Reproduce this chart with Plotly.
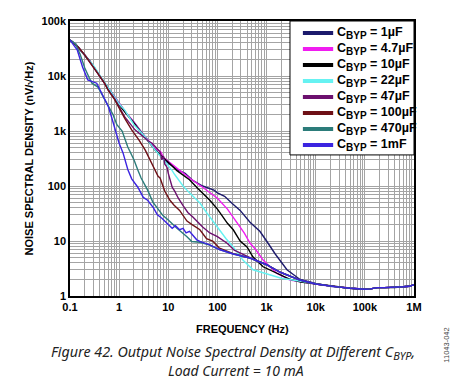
import plotly.graph_objects as go

# ---------------- data ----------------
FLOOR_F = [20e3, 30e3, 50e3, 80e3, 100e3, 130e3, 180e3, 250e3, 400e3, 600e3, 800e3, 1e6]
FLOOR_V = [1.5, 1.45, 1.38, 1.34, 1.33, 1.35, 1.42, 1.42, 1.43, 1.47, 1.5, 1.6]

F_1U = [0.1, 0.13, 0.16, 0.2, 0.25, 0.3, 0.4, 0.5, 0.6, 0.8, 1.0, 1.4, 2.0, 2.8, 3.8, 5.4, 7.4, 10, 13, 16, 22, 32, 50, 85, 100, 140, 200, 290, 460, 730, 1000, 1500, 2600, 4800, 10000]
V_1U = [45e3, 38e3, 30e3, 24e3, 19e3, 15e3, 10e3, 7.6e3, 6.1e3, 4.2e3, 3.1e3, 2.1e3, 1.45e3, 950, 680, 460, 330, 260, 220, 195, 170, 125, 100, 84, 75, 65, 48, 36, 22, 15, 10, 5.8, 3.0, 2.0, 1.7]

F_4U7 = [0.1, 0.13, 0.16, 0.2, 0.25, 0.3, 0.4, 0.5, 0.6, 0.8, 1.0, 1.4, 2.0, 2.8, 3.8, 5.4, 7.0, 8.0, 10, 15, 20, 27, 50, 100, 160, 250, 350, 460, 600, 850, 1600, 3000, 5000, 10000]
V_4U7 = [45e3, 38e3, 30e3, 24e3, 19e3, 15e3, 10e3, 7.5e3, 6.0e3, 4.2e3, 3.1e3, 2.1e3, 1.45e3, 950, 700, 480, 420, 330, 280, 210, 170, 140, 95, 60, 38, 21, 14, 9.2, 7.0, 4.5, 2.6, 1.95, 1.8, 1.65]

F_10U = [0.1, 0.13, 0.16, 0.2, 0.25, 0.3, 0.4, 0.5, 0.6, 0.8, 1.0, 1.4, 2.0, 2.8, 3.8, 5.4, 7.8, 10, 15, 20, 27, 40, 70, 100, 160, 210, 290, 400, 530, 850, 1600, 3000, 5000, 10000]
V_10U = [45e3, 38e3, 30e3, 24e3, 19e3, 15e3, 10e3, 7.5e3, 6.0e3, 4.1e3, 3.0e3, 2.05e3, 1.4e3, 930, 680, 450, 335, 270, 190, 160, 130, 90, 55, 38, 21, 16, 10, 7.8, 5.1, 3.4, 2.6, 2.0, 1.8, 1.65]

F_22U = [0.1, 0.13, 0.16, 0.2, 0.25, 0.3, 0.4, 0.5, 0.6, 0.8, 1.0, 1.3, 2.0, 3.4, 5.4, 8.0, 10.8, 12, 13.6, 17, 20, 27, 44, 60, 100, 150, 210, 330, 530, 800, 1000, 2000, 5000, 10000]
V_22U = [45e3, 38e3, 30e3, 24e3, 19e3, 15.5e3, 10.5e3, 7.8e3, 6.2e3, 4.3e3, 3.1e3, 2.4e3, 1.3e3, 780, 450, 300, 220, 190, 160, 120, 100, 75, 49, 33, 18, 11, 7.8, 4.5, 3.0, 2.7, 2.5, 2.1, 1.85, 1.65]

F_47U = [0.1, 0.15, 0.2, 0.28, 0.37, 0.5, 0.6, 0.8, 1.0, 1.3, 2.1, 3.0, 4.0, 4.7, 5.5, 6.8, 7.4, 8.0, 8.5, 9.4, 10, 11, 12, 13.6, 16, 20, 25, 32, 40, 50, 70, 100, 160, 220, 460, 1000, 1900, 4800, 10000]
V_47U = [45e3, 33e3, 24e3, 16e3, 11e3, 7.5e3, 5.6e3, 3.9e3, 2.8e3, 1.8e3, 1.05e3, 800, 650, 600, 520, 420, 300, 350, 250, 220, 170, 130, 95, 80, 60, 44, 33, 27, 22, 18, 14, 12, 9.0, 6.8, 5.0, 3.7, 2.7, 1.95, 1.65]

F_100U = [0.1, 0.15, 0.2, 0.28, 0.37, 0.5, 0.6, 0.8, 1.0, 1.3, 1.8, 2.5, 3.4, 4.2, 4.7, 6.2, 6.8, 8.5, 10.8, 13, 17, 24, 30, 44, 60, 80, 110, 210, 460, 1000, 1900, 4800, 10000]
V_100U = [45e3, 33e3, 24e3, 16e3, 11e3, 7.5e3, 5.5e3, 3.8e3, 2.6e3, 1.7e3, 1.05e3, 700, 450, 300, 250, 150, 140, 80, 55, 45, 36, 23, 20, 16, 11, 10, 7.4, 5.9, 4.9, 3.7, 2.7, 1.95, 1.65]

F_470U = [0.1, 0.13, 0.16, 0.2, 0.25, 0.28, 0.37, 0.47, 0.6, 0.75, 0.9, 1.15, 1.5, 2.0, 2.4, 2.8, 3.8, 4.9, 5.4, 7.8, 10, 15, 24, 30, 44, 70, 110, 210, 460, 1000, 1900, 4800, 10000]
V_470U = [45e3, 38e3, 25e3, 14e3, 9e3, 7.4e3, 6.3e3, 4.2e3, 2.8e3, 2.0e3, 1.3e3, 1.0e3, 510, 300, 195, 140, 84, 50, 45, 29, 24, 17, 12, 9.8, 9.5, 8.4, 7.0, 5.8, 4.9, 3.7, 2.7, 1.95, 1.65]

F_1M = [0.1, 0.14, 0.18, 0.23, 0.35, 0.5, 0.6, 0.7, 0.85, 1.0, 1.2, 1.5, 1.8, 2.4, 3.1, 3.8, 5.0, 6.0, 7.4, 9.4, 12, 14, 17, 20, 23, 27, 33, 38, 44, 70, 110, 210, 460, 1000, 1900, 4800, 10000]
V_1M = [45e3, 30e3, 14.6e3, 8.5e3, 7.4e3, 4.0e3, 2.8e3, 1.8e3, 1.0e3, 600, 400, 200, 135, 95, 62, 55, 40, 30, 26, 21, 17, 19, 16, 17, 14, 15, 12, 10.5, 9.8, 8.5, 7.0, 5.8, 4.9, 3.7, 2.7, 1.95, 1.65]

LABELS = ["1µF", "4.7µF", "10µF", "22µF", "47µF", "100µF", "470µF", "1mF"]
COLORS = ["#1c1a6c", "#f01cf0", "#000000", "#66f2f2", "#6c106e", "#6e1016", "#2c7c7a", "#3b24e0"]
SERIES_F = [F_1U, F_4U7, F_10U, F_22U, F_47U, F_100U, F_470U, F_1M]
SERIES_V = [V_1U, V_4U7, V_10U, V_22U, V_47U, V_100U, V_470U, V_1M]

X_TICK_LABELS = ["0.1", "1", "10", "100", "1k", "10k", "100k", "1M"]
Y_TICK_LABELS = ["1", "10", "100", "1k", "10k", "100k"]

# ---------------- figure ----------------
fig = go.Figure()

for lab, col, fx, vy in zip(LABELS, COLORS, SERIES_F, SERIES_V):
    fig.add_trace(go.Scatter(x=fx + FLOOR_F, y=vy + FLOOR_V, mode="lines",
                             line=dict(color=col, width=1.4), showlegend=False,
                             name=lab, hoverinfo="skip"))

# log grid: all 1..9 multiples, labels only on decades
xvals, xtext = [], []
for d in range(-1, 6):
    for m in range(1, 10):
        xvals.append(m * 10.0 ** d)
        xtext.append(X_TICK_LABELS[d + 1] if m == 1 else "")
xvals.append(1e6)
xtext.append(X_TICK_LABELS[-1])

yvals, ytext = [], []
for d in range(0, 5):
    for m in range(1, 10):
        yvals.append(m * 10.0 ** d)
        ytext.append(Y_TICK_LABELS[d] if m == 1 else "")
yvals.append(1e5)
ytext.append(Y_TICK_LABELS[-1])

FONT = "Liberation Sans, Arial, sans-serif"
GRID = "#a4a4a4"

fig.update_xaxes(type="log", range=[-1, 6], tickvals=xvals, ticktext=xtext,
                 showgrid=True, gridcolor=GRID, gridwidth=1, ticks="",
                 showline=True, linecolor="black", linewidth=1.5, mirror=True,
                 tickfont=dict(family=FONT, size=11, color="black", weight="bold"),
                 zeroline=False, automargin=False)
fig.update_yaxes(type="log", range=[0, 5], tickvals=yvals, ticktext=ytext,
                 showgrid=True, gridcolor=GRID, gridwidth=1, ticks="",
                 showline=True, linecolor="black", linewidth=1.5, mirror=True,
                 tickfont=dict(family=FONT, size=11, color="black", weight="bold"),
                 title=dict(text="NOISE SPECTRAL DENSITY (nV/√Hz)", standoff=6,
                            font=dict(family=FONT, size=11, color="black", weight="bold")),
                 zeroline=False, automargin=False)

# ---------------- manual legend (layout only) ----------------
shapes = []
annotations = []
L_X0, L_X1, L_Y0, L_Y1 = 0.6395, 1.0, 0.513, 1.0
shapes.append(dict(type="rect", xref="paper", yref="paper", x0=L_X0, x1=L_X1,
                   y0=L_Y0, y1=L_Y1, fillcolor="white",
                   line=dict(color="black", width=1), layer="above"))
ROW0, ROWSTEP = (296 - 33) / 275, 16 / 275
SUBSTYLE = "<sub><span style='font-size:10px'>BYP</span></sub>"
for i, (lab, col) in enumerate(zip(LABELS, COLORS)):
    yy = ROW0 - i * ROWSTEP
    shapes.append(dict(type="line", xref="paper", yref="paper", x0=0.677, x1=0.765,
                       y0=yy, y1=yy, line=dict(color=col, width=4), layer="above"))
    annotations.append(dict(text="C" + SUBSTYLE + " = " + lab, x=0.771, y=yy,
                            xref="paper", yref="paper", showarrow=False,
                            xanchor="left", yanchor="middle",
                            font=dict(family=FONT, size=12.5, color="black", weight="bold")))

CAP_FONT = "Noto Sans, Open Sans, sans-serif"
annotations += [
    dict(text="<b>FREQUENCY (Hz)</b>", x=0.5, y=-0.12, xref="paper", yref="paper",
         showarrow=False, xanchor="center", yanchor="middle",
         font=dict(family=FONT, size=11, color="black")),
    dict(text="<i>Figure 42. Output Noise Spectral Density at Different C<sub><span style='font-size:11px'>BYP</span></sub>,</i>",
         x=0.474, y=-0.204, xref="paper", yref="paper", showarrow=False,
         xanchor="center", yanchor="middle",
         font=dict(family=CAP_FONT, size=14.3, color="#222")),
    dict(text="<i>Load Current = 10 mA</i>",
         x=0.483, y=-0.27, xref="paper", yref="paper", showarrow=False,
         xanchor="center", yanchor="middle",
         font=dict(family=CAP_FONT, size=14, color="#222")),
    dict(text="11043-042", x=1.095, y=-0.178, xref="paper", yref="paper",
         showarrow=False, textangle=-90, xanchor="center", yanchor="middle",
         font=dict(family=FONT, size=7.5, color="#444")),
]

# The page body has an 8px margin, so the figure is 8px smaller than the window
fig.update_layout(
    width=457, height=376,
    margin=dict(l=62, r=51, t=13, b=88, pad=0),
    paper_bgcolor="white", plot_bgcolor="white",
    showlegend=False,
    shapes=shapes,
    annotations=annotations,
)

fig.write_html("out.html")
